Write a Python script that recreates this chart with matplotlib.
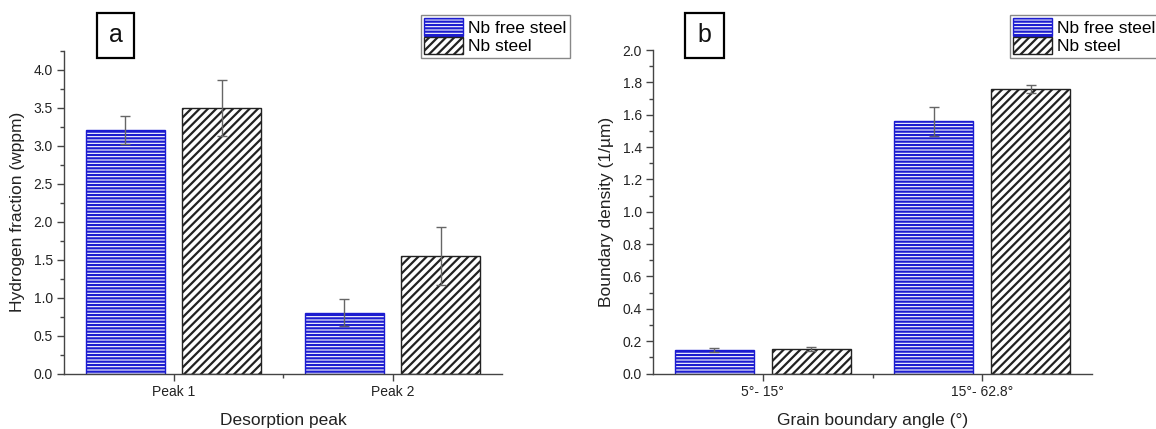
import matplotlib
matplotlib.use("Agg")
import matplotlib.pyplot as plt
import matplotlib.patches as mpatches
import numpy as np

plt.rcParams['font.family'] = ['Liberation Sans', 'DejaVu Sans']
plt.rcParams['hatch.linewidth'] = 1.6

series = ["Nb free steel", "Nb steel"]

# panel a
peaks = ["Peak 1", "Peak 2"]
h_free = np.array([3.21, 0.80])
h_free_err = np.array([0.18, 0.18])
h_nb = np.array([3.50, 1.55])
h_nb_err = np.array([0.37, 0.38])

# panel b
angles = ["5°- 15°", "15°- 62.8°"]
d_free = np.array([0.145, 1.56])
d_free_err = np.array([0.012, 0.09])
d_nb = np.array([0.150, 1.76])
d_nb_err = np.array([0.012, 0.025])

W, H = 1156, 429
fig = plt.figure(figsize=(W / 100, H / 100), dpi=100)

blue = "#1c1cd0"
dark = "#222222"
spine_c = "#444444"
width = 0.36
off = 0.22


def draw_panel(ax, cats, v1, e1, v2, e2, ylim, major, minor, xlabel, ylabel):
    x = np.arange(1, len(cats) + 1)
    ax.bar(x - off, v1, width, color="white", edgecolor=blue, hatch="-----",
           linewidth=1.0, label=series[0], zorder=2)
    ax.bar(x + off, v2, width, color="white", edgecolor=dark, hatch="////",
           linewidth=1.0, label=series[1], zorder=2)
    ax.errorbar(x - off, v1, yerr=e1, fmt="none", ecolor="#666666",
                elinewidth=1.0, capsize=3.5, capthick=1.0, zorder=3)
    ax.errorbar(x + off, v2, yerr=e2, fmt="none", ecolor="#666666",
                elinewidth=1.0, capsize=3.5, capthick=1.0, zorder=3)
    ax.set_xlim(0.5, 2.5)
    ax.set_ylim(*ylim)
    ax.set_xticks(x)
    ax.set_xticklabels(cats)
    ax.set_xticks([1.5], minor=True)
    ax.set_yticks(np.arange(0, ylim[1] + 1e-9, major))
    ax.set_yticks(np.arange(0, ylim[1] + 1e-9, minor), minor=True)
    ax.yaxis.set_major_formatter(matplotlib.ticker.FormatStrFormatter("%.1f"))
    for s in ["top", "right"]:
        ax.spines[s].set_visible(False)
    for s in ["left", "bottom"]:
        ax.spines[s].set_color(spine_c)
        ax.spines[s].set_linewidth(1.0)
    ax.tick_params(which="major", direction="out", length=5, width=1,
                   color=spine_c, labelsize=10, labelcolor="#222222", pad=3)
    ax.tick_params(which="minor", direction="out", length=3, width=1,
                   color=spine_c)
    ax.set_xlabel(xlabel, fontsize=12.5, color="#222222", labelpad=10)
    ax.set_ylabel(ylabel, fontsize=12.5, color="#222222", labelpad=6)


def px_axes(l, r, t, b):
    return fig.add_axes([l / W, 1 - b / H, (r - l) / W, (b - t) / H])


ax1 = px_axes(64, 502, 51, 373.5)
draw_panel(ax1, peaks, h_free, h_free_err, h_nb, h_nb_err, (0, 4.25), 0.5, 0.25,
           "Desorption peak", "Hydrogen fraction (wppm)")

ax2 = px_axes(653, 1092, 50, 373.5)
draw_panel(ax2, angles, d_free, d_free_err, d_nb, d_nb_err, (0, 2.0), 0.2, 0.1,
           "Grain boundary angle (°)", "Boundary density (1/µm)")

for ax, lx in [(ax1, 421), (ax2, 1010)]:
    handles, labels = ax.get_legend_handles_labels()
    leg = fig.legend(handles, labels, loc="upper left",
                     bbox_to_anchor=(lx / W, 1 - 15 / H),
                     bbox_transform=fig.transFigure, borderaxespad=0,
                     fontsize=12.5, frameon=True, fancybox=False,
                     edgecolor="#888888", framealpha=1, borderpad=0.2,
                     handlelength=2.2, handleheight=1.15, labelspacing=0.05,
                     handletextpad=0.3)
    leg.get_frame().set_linewidth(1.0)

for letter, l, r in [("a", 97, 134), ("b", 685, 724)]:
    t, b = 13, 58
    fig.add_artist(mpatches.Rectangle((l / W, 1 - b / H), (r - l) / W, (b - t) / H,
                                      transform=fig.transFigure, fill=False,
                                      edgecolor="black", linewidth=1.6))
    fig.text((l + r) / 2 / W, 1 - (t + b) / 2 / H, letter, fontsize=18,
             ha="center", va="center", color="#111111")

fig.savefig("out.png", dpi=100)
